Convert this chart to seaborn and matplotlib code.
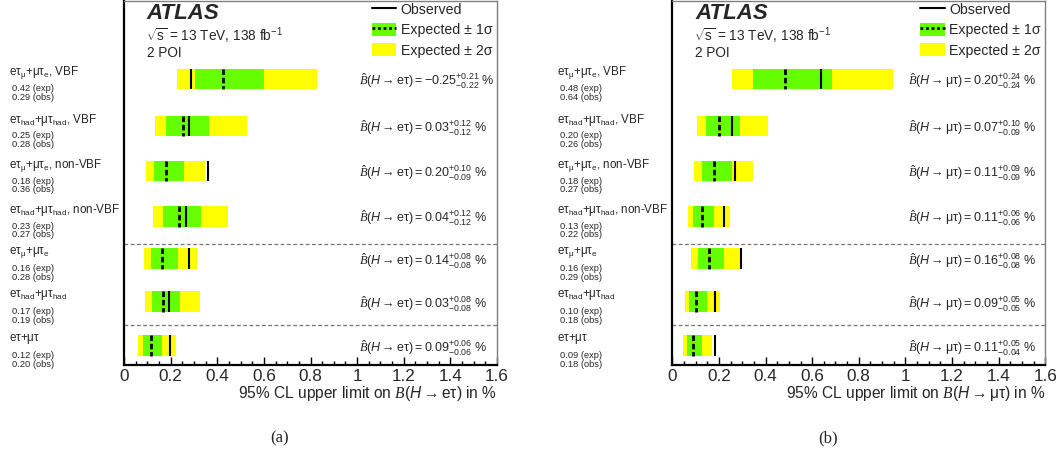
import matplotlib
matplotlib.use("Agg")
import matplotlib.pyplot as plt
import numpy as np
import seaborn as sns
from matplotlib.patches import Patch
from matplotlib.lines import Line2D
from matplotlib.ticker import MultipleLocator
from matplotlib.transforms import blended_transform_factory

# ---------------- data ----------------
categories = [
    r"$\mathrm{e\tau_{\mu}{+}\mu\tau_{e}}$, VBF",
    r"$\mathrm{e\tau_{had}{+}\mu\tau_{had}}$, VBF",
    r"$\mathrm{e\tau_{\mu}{+}\mu\tau_{e}}$, non-VBF",
    r"$\mathrm{e\tau_{had}{+}\mu\tau_{had}}$, non-VBF",
    r"$\mathrm{e\tau_{\mu}{+}\mu\tau_{e}}$",
    r"$\mathrm{e\tau_{had}{+}\mu\tau_{had}}$",
    r"$\mathrm{e\tau{+}\mu\tau}$",
]

# H -> e tau
etau_obs = [0.286, 0.279, 0.362, 0.266, 0.277, 0.192, 0.197]
etau_exp = [0.423, 0.252, 0.180, 0.234, 0.163, 0.167, 0.117]
etau_m1 = [0.305, 0.179, 0.127, 0.167, 0.117, 0.120, 0.082]
etau_p1 = [0.601, 0.365, 0.257, 0.330, 0.230, 0.239, 0.163]
etau_m2 = [0.226, 0.133, 0.094, 0.124, 0.086, 0.089, 0.060]
etau_p2 = [0.828, 0.526, 0.349, 0.448, 0.312, 0.325, 0.222]
etau_bf = [-0.25, 0.03, 0.20, 0.04, 0.14, 0.03, 0.09]
etau_up = [0.21, 0.12, 0.10, 0.12, 0.08, 0.08, 0.06]
etau_dn = [0.22, 0.12, 0.09, 0.12, 0.08, 0.08, 0.06]

# H -> mu tau
mutau_obs = [0.637, 0.256, 0.268, 0.220, 0.293, 0.184, 0.184]
mutau_exp = [0.484, 0.200, 0.179, 0.126, 0.157, 0.103, 0.088]
mutau_m1 = [0.348, 0.143, 0.127, 0.089, 0.110, 0.073, 0.062]
mutau_p1 = [0.685, 0.290, 0.256, 0.179, 0.220, 0.150, 0.126]
mutau_m2 = [0.256, 0.106, 0.093, 0.066, 0.082, 0.054, 0.046]
mutau_p2 = [0.948, 0.409, 0.346, 0.248, 0.298, 0.205, 0.170]
mutau_bf = [0.20, 0.07, 0.11, 0.11, 0.16, 0.09, 0.11]
mutau_up = [0.24, 0.10, 0.09, 0.06, 0.08, 0.05, 0.05]
mutau_dn = [0.24, 0.09, 0.09, 0.06, 0.08, 0.05, 0.04]

xticks = [0, 0.2, 0.4, 0.6, 0.8, 1.0, 1.2, 1.4, 1.6]
xtick_labels = ["0", "0.2", "0.4", "0.6", "0.8", "1", "1.2", "1.4", "1.6"]

# ---------------- layout / style ----------------
ROW_Y = [0.0, 1.054, 2.074, 3.088, 4.04, 5.011, 5.998]
SEP_Y = [3.712, 5.536]
BAR_H = 0.46
GREEN = "#66ff00"
YELLOW = "#ffff00"

sns.set_theme(style="white")
plt.rcParams.update({
    "font.family": ["Liberation Sans", "DejaVu Sans"],
    "mathtext.fontset": "custom",
    "mathtext.rm": "Liberation Sans",
    "mathtext.it": "Liberation Sans:italic",
    "mathtext.bf": "Liberation Sans:bold",
    "mathtext.sf": "Liberation Sans",
    "mathtext.cal": "Liberation Serif:italic",
})

W, H = 1060, 461
fig = plt.figure(figsize=(W / 100, H / 100), dpi=100)


def panel(left_px, label_px, chan, obs, exp, m1, p1, m2, p2, bf, up, dn, caption, cap_px):
    ax = fig.add_axes([left_px / W, (H - 365) / H, 373 / W, 364 / H])
    ax.set_xlim(0, 1.6)
    ax.set_ylim(6.437, -1.761)

    m2a, p2a, m1a, p1a = map(np.asarray, (m2, p2, m1, p1))
    ax.barh(ROW_Y, p2a - m2a, left=m2a, height=BAR_H, color=YELLOW, lw=0, zorder=2)
    ax.barh(ROW_Y, p1a - m1a, left=m1a, height=BAR_H, color=GREEN, lw=0, zorder=3)
    for y, e, o in zip(ROW_Y, exp, obs):
        ax.vlines(e, y - BAR_H / 2, y + BAR_H / 2, color="black", lw=2.0,
                  linestyles=(0, (2, 1)), zorder=4)
        ax.vlines(o, y - BAR_H / 2, y + BAR_H / 2, color="black", lw=1.5, zorder=5)
    for s in SEP_Y:
        ax.axhline(s, color="0.45", lw=0.9, ls=(0, (3, 2)), zorder=1)

    # annotations
    for y, b, u, d in zip(ROW_Y, bf, up, dn):
        ax.text(1.01, y + 0.06,
                r"$\hat{\mathcal{B}}(H\rightarrow \mathrm{" + chan + r"}) = "
                + f"{b:.2f}" + r"^{+" + f"{u:.2f}" + r"}_{-" + f"{d:.2f}" + r"}$ %",
                fontsize=9, ha="left", va="center", zorder=6)

    # category labels
    tr = blended_transform_factory(fig.transFigure, ax.transData)
    for y, c, e, o in zip(ROW_Y, categories, exp, obs):
        ax.text(label_px / W, y - 0.14, c, transform=tr, fontsize=8.4,
                ha="left", va="center")
        ax.text((label_px + 3.5) / W, y + 0.22, f"{e:.2f} (exp)", transform=tr,
                fontsize=6.7, ha="left", va="center")
        ax.text((label_px + 3.5) / W, y + 0.42, f"{o:.2f} (obs)", transform=tr,
                fontsize=6.7, ha="left", va="center")

    # axes styling
    for side in ("left", "bottom"):
        ax.spines[side].set_color("black")
        ax.spines[side].set_linewidth(1.6)
    for side in ("top", "right"):
        ax.spines[side].set_color("0.5")
        ax.spines[side].set_linewidth(1.0)
    ax.set_yticks([])
    ax.set_xticks(xticks)
    ax.set_xticklabels(xtick_labels)
    ax.xaxis.set_minor_locator(MultipleLocator(0.05))
    ax.tick_params(axis="x", which="major", direction="in", length=6, width=1,
                   color="black", labelsize=12.3, pad=3.2, bottom=True, top=False)
    ax.tick_params(axis="x", which="minor", direction="in", length=3, width=1,
                   color="black", bottom=True, top=False)
    ax.set_xlabel(r"95% CL upper limit on $\mathcal{B}(H \rightarrow \mathrm{" + chan + r"})$ in %",
                  loc="right", fontsize=11.2)
    ax.xaxis.label.set_va("center")
    ax.xaxis.set_label_coords(1.0, -0.077)

    # ATLAS labels
    ax.text(0.061, 0.967, "ATLAS", transform=ax.transAxes, fontsize=16,
            fontweight="bold", fontstyle="italic", ha="left", va="center")
    ax.text(0.059, 0.905, r"$\sqrt{\mathrm{s}}$ = 13 TeV, 138 fb$^{-1}$",
            transform=ax.transAxes, fontsize=9.8, ha="left", va="center")
    ax.text(0.061, 0.857, "2 POI", transform=ax.transAxes, fontsize=9.8,
            ha="left", va="center")

    # legend
    h_obs = Line2D([], [], color="black", lw=1.5)
    h_1s = (Patch(facecolor=GREEN, edgecolor="none"),
            Line2D([], [], color="black", lw=2, ls=(0, (1, 1))))
    h_2s = Patch(facecolor=YELLOW, edgecolor="none")
    ax.legend([h_obs, h_1s, h_2s],
              ["Observed", "Expected ± 1σ", "Expected ± 2σ"],
              loc="upper left", bbox_to_anchor=(0.66, 1.0), frameon=False,
              fontsize=10.2, handlelength=1.75, handleheight=1.05,
              handletextpad=0.3, labelspacing=0.42, borderpad=0.1,
              borderaxespad=0)

    fig.text(cap_px / W, 1 - 438 / H, caption, family="Liberation Serif",
             fontsize=12, ha="center", va="center")
    return ax


panel(124, 8.7, r"e\tau", etau_obs, etau_exp, etau_m1, etau_p1, etau_m2, etau_p2,
      etau_bf, etau_up, etau_dn, "(a)", 280)
panel(672.3, 556.7, r"\mu\tau", mutau_obs, mutau_exp, mutau_m1, mutau_p1, mutau_m2,
      mutau_p2, mutau_bf, mutau_up, mutau_dn, "(b)", 828)

fig.savefig("out.png", dpi=100)
